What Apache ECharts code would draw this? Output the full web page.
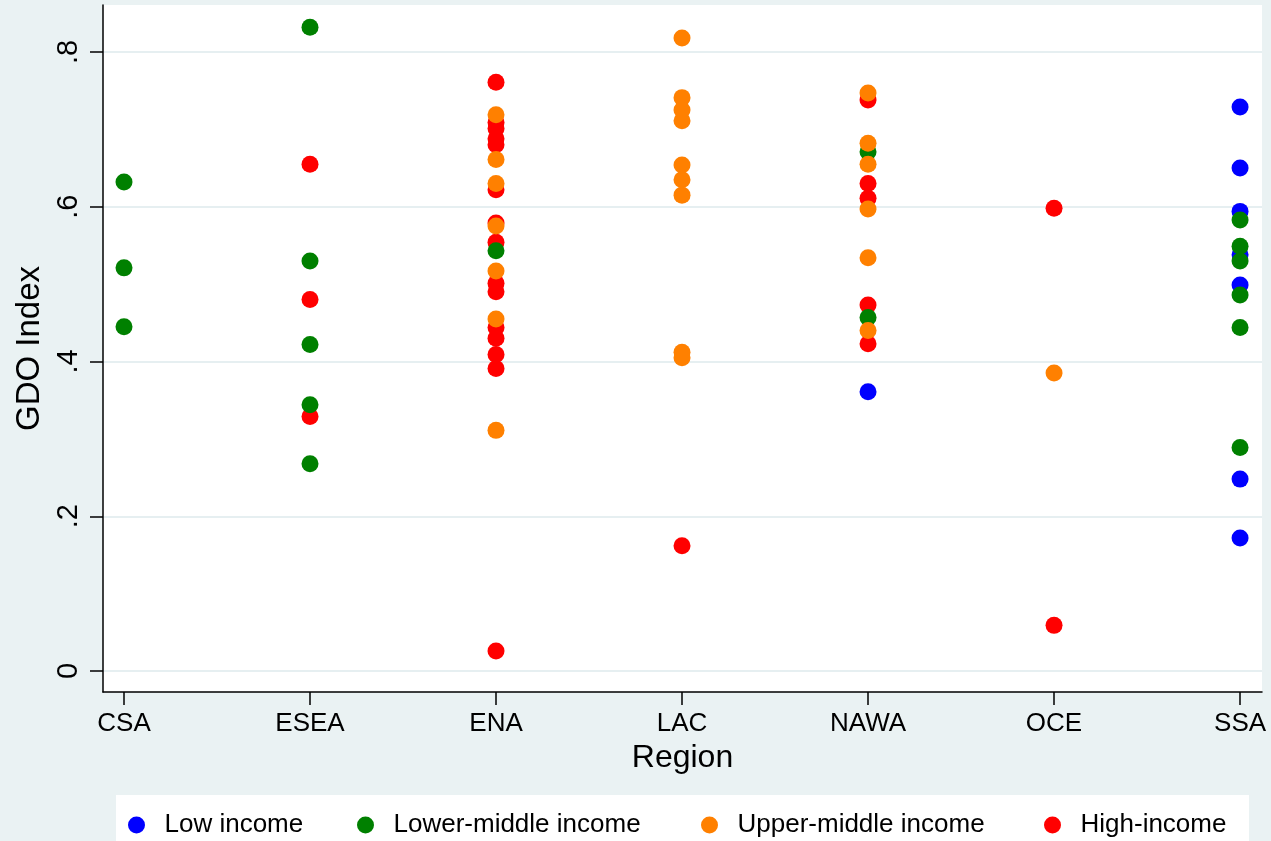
<!DOCTYPE html>
<html>
<head>
<meta charset="utf-8">
<script src="https://cdn.jsdelivr.net/npm/echarts@6/dist/echarts.min.js"></script>
<style>
html,body{margin:0;padding:0;background:#eaf2f3;}
#chart{width:1271px;height:841px;}
</style>
</head>
<body>
<div id="chart"></div>
<script>
// ---- data ----
var regions = ['CSA', 'ESEA', 'ENA', 'LAC', 'NAWA', 'OCE', 'SSA'];
var yTicks = [0, 0.2, 0.4, 0.6, 0.8];
var yTickLabels = ['0', '.2', '.4', '.6', '.8'];
var seriesNames = ['Low income', 'Lower-middle income', 'Upper-middle income', 'High-income'];

var lowIncome = [
  ['NAWA', 0.361],
  ['SSA', 0.729], ['SSA', 0.650], ['SSA', 0.594], ['SSA', 0.538], ['SSA', 0.499], ['SSA', 0.248], ['SSA', 0.172]
];
var lowerMiddleIncome = [
  ['CSA', 0.632], ['CSA', 0.521], ['CSA', 0.445],
  ['ESEA', 0.832], ['ESEA', 0.530], ['ESEA', 0.422], ['ESEA', 0.344], ['ESEA', 0.268],
  ['ENA', 0.543],
  ['NAWA', 0.671], ['NAWA', 0.457],
  ['SSA', 0.583], ['SSA', 0.549], ['SSA', 0.530], ['SSA', 0.486], ['SSA', 0.444], ['SSA', 0.289]
];
var upperMiddleIncome = [
  ['ENA', 0.719], ['ENA', 0.661], ['ENA', 0.630], ['ENA', 0.575], ['ENA', 0.517], ['ENA', 0.455], ['ENA', 0.311],
  ['LAC', 0.818], ['LAC', 0.741], ['LAC', 0.725], ['LAC', 0.711], ['LAC', 0.654], ['LAC', 0.635], ['LAC', 0.615], ['LAC', 0.412], ['LAC', 0.405],
  ['NAWA', 0.747], ['NAWA', 0.682], ['NAWA', 0.655], ['NAWA', 0.597], ['NAWA', 0.534], ['NAWA', 0.440],
  ['OCE', 0.385]
];
var highIncome = [
  ['ESEA', 0.655], ['ESEA', 0.480], ['ESEA', 0.329],
  ['ENA', 0.761], ['ENA', 0.709], ['ENA', 0.701], ['ENA', 0.688], ['ENA', 0.680], ['ENA', 0.622], ['ENA', 0.579], ['ENA', 0.554],
  ['ENA', 0.501], ['ENA', 0.490], ['ENA', 0.444], ['ENA', 0.430], ['ENA', 0.409], ['ENA', 0.391], ['ENA', 0.026],
  ['LAC', 0.162],
  ['NAWA', 0.738], ['NAWA', 0.630], ['NAWA', 0.611], ['NAWA', 0.473], ['NAWA', 0.423],
  ['OCE', 0.598], ['OCE', 0.059]
];

// ---- build chart ----
function toXY(arr) {
  return arr.map(function (d) { return [regions.indexOf(d[0]), d[1]]; });
}
var colors = ['#0000ff', '#008000', '#ff8000', '#ff0000'];
var groups = [lowIncome, lowerMiddleIncome, upperMiddleIncome, highIncome];
var zOrder = [1, 3, 4, 2];
var FONT = '"Liberation Sans", Arial, Helvetica, sans-serif';

var series = groups.map(function (g, i) {
  return {
    name: seriesNames[i],
    type: 'scatter',
    data: toXY(g),
    symbol: 'circle',
    symbolSize: 17,
    z: zOrder[i] + 2,
    itemStyle: { color: colors[i], opacity: 1 },
    emphasis: { disabled: true }
  };
});

var legendLefts = [128, 357, 701, 1044];
var legends = seriesNames.map(function (n, i) {
  return {
    data: [n],
    left: legendLefts[i],
    top: 812,
    padding: 0,
    icon: 'circle',
    itemWidth: 46,
    itemHeight: 17,
    selectedMode: false,
    textStyle: { fontFamily: FONT, fontSize: 26, color: '#000' }
  };
});

var chart = echarts.init(document.getElementById('chart'), null, { renderer: 'canvas' });
chart.setOption({
  animation: false,
  backgroundColor: '#eaf2f3',
  color: colors,
  graphic: [
    { type: 'rect', left: 116, top: 795, shape: { width: 1133, height: 60 }, style: { fill: '#ffffff' }, z: -1 }
  ],
  legend: legends,
  grid: {
    left: 103, top: 5, right: 9, bottom: 149,
    show: true, backgroundColor: '#ffffff', borderWidth: 0
  },
  xAxis: {
    type: 'value',
    min: -0.1129,
    max: 6.118,
    name: 'Region',
    nameLocation: 'middle',
    nameGap: 49,
    nameTextStyle: { fontFamily: FONT, fontSize: 32, color: '#000' },
    axisLine: { show: true, onZero: false, lineStyle: { color: '#000', width: 1.5 } },
    axisTick: { show: true, length: 13, customValues: [0, 1, 2, 3, 4, 5, 6], lineStyle: { color: '#000', width: 1.5 } },
    axisLabel: {
      customValues: [0, 1, 2, 3, 4, 5, 6],
      margin: 19,
      fontFamily: FONT, fontSize: 26, color: '#000',
      formatter: function (v) { return regions[Math.round(v)] || ''; }
    },
    splitLine: { show: false }
  },
  yAxis: {
    type: 'value',
    min: -0.0271,
    max: 0.8607,
    name: 'GDO Index',
    nameLocation: 'middle',
    nameGap: 53,
    nameTextStyle: { fontFamily: FONT, fontSize: 33, color: '#000' },
    axisLine: { show: true, onZero: false, lineStyle: { color: '#000', width: 1.5 } },
    axisTick: { show: true, length: 13, customValues: yTicks, lineStyle: { color: '#000', width: 1.5 } },
    axisLabel: {
      customValues: yTicks,
      rotate: 90,
      margin: 20,
      fontFamily: FONT, fontSize: 29, color: '#000',
      formatter: function (v) {
        var idx = yTicks.findIndex(function (t) { return Math.abs(t - v) < 1e-6; });
        return idx >= 0 ? yTickLabels[idx] : '';
      }
    },
    splitLine: { show: true, lineStyle: { color: '#e6eff1', width: 2 } }
  },
  series: series
});
</script>
</body>
</html>
